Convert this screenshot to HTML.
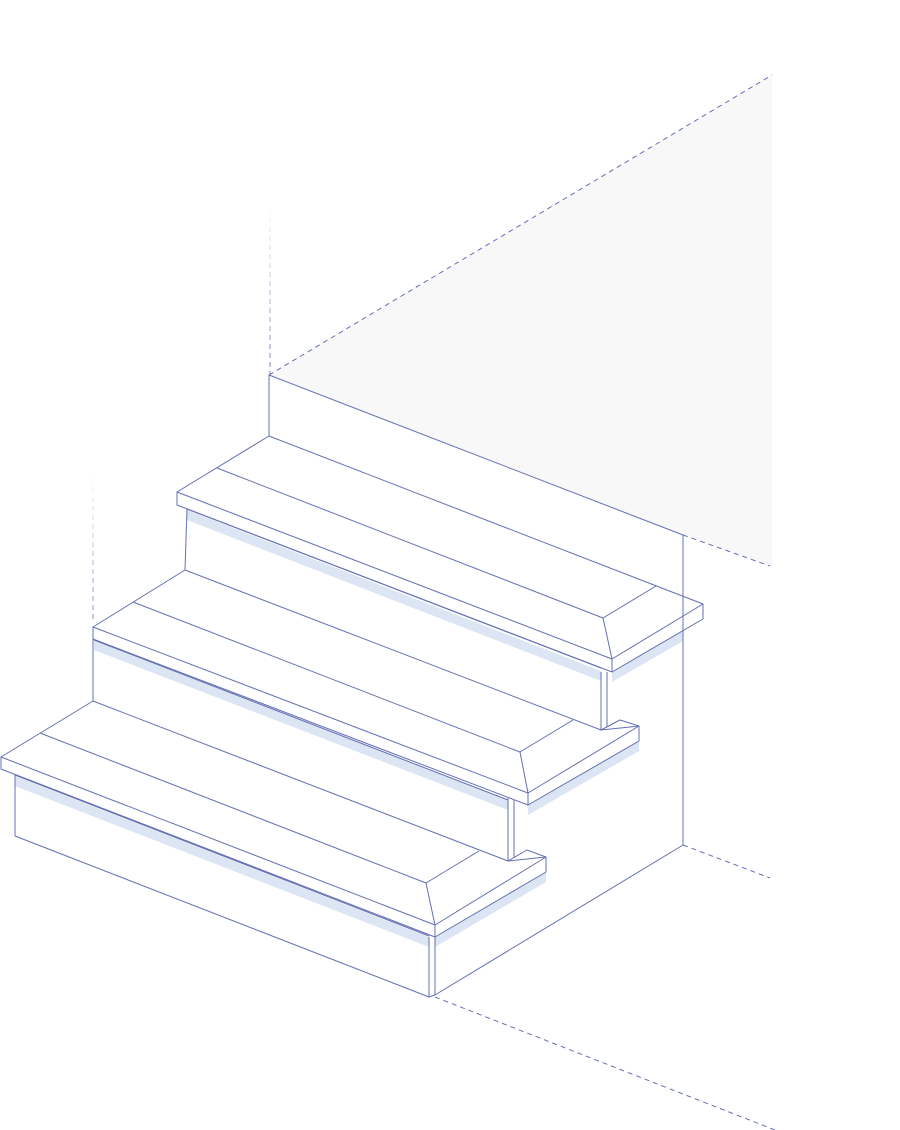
<!DOCTYPE html>
<html><head><meta charset="utf-8"><style>html,body{margin:0;padding:0;background:#fff}svg{display:block}</style></head>
<body>
<svg width="900" height="1130" viewBox="0 0 900 1130" xmlns="http://www.w3.org/2000/svg">
<defs>
<linearGradient id="fv1" gradientUnits="userSpaceOnUse" x1="0" y1="200" x2="0" y2="375"><stop offset="0" stop-color="#6570b5" stop-opacity="0"/><stop offset="1" stop-color="#6570b5" stop-opacity="0.9"/></linearGradient>
<linearGradient id="fv2" gradientUnits="userSpaceOnUse" x1="0" y1="470" x2="0" y2="622"><stop offset="0" stop-color="#6570b5" stop-opacity="0"/><stop offset="1" stop-color="#6570b5" stop-opacity="0.8"/></linearGradient>
</defs>
<polygon points="269,375 772,75 772,566 683,535" fill="#f8f8f8"/>
<g fill="#dce5f4">
<polygon points="187,510 601,671 601,681 187,520"/>
<polygon points="612,672 683,631 683,641 612,682"/>
<polygon points="94,640 508,800 508,810 94,650"/>
<polygon points="528,805 639,741 639,751 528,815"/>
<polygon points="15,776 429,937 429,947 15,786"/>
<polygon points="435,937 546,872 546,882 435,947"/>
</g>
<g fill="none" stroke="#6570b5" stroke-width="1" stroke-dasharray="5,4">
<line x1="269" y1="375" x2="772" y2="75"/>
<line x1="683" y1="535" x2="770" y2="566"/>
<line x1="683" y1="845" x2="770" y2="878"/>
<line x1="435" y1="997" x2="775" y2="1130"/>
</g>
<line x1="270" y1="200" x2="270" y2="375" stroke="url(#fv1)" stroke-width="1" stroke-dasharray="5,4"/>
<line x1="93" y1="470" x2="93" y2="622" stroke="url(#fv2)" stroke-width="1" stroke-dasharray="5,4"/>
<g fill="none" stroke="#6470b2" stroke-width="1" stroke-linejoin="round">
<polyline points="269,436 269,375 683,535 683,845 435,995"/>
<polyline points="269,436 177,492 177,505 612,672 703,619 703,604 269,436"/>
<polyline points="177,492 612,659 703,604"/>
<polyline points="217,468 603,618 656,586"/>
<line x1="603" y1="618" x2="612" y2="659"/>
<line x1="612" y1="659" x2="612" y2="672"/>
<polyline points="187,509 185,570 601,730 601,672"/>
<line x1="607" y1="672" x2="607" y2="727"/>
<line x1="187" y1="509" x2="601" y2="668"/>
<polyline points="185,570 93,627 93,639 528,805 639,741 639,726 620,720 601,730"/>
<line x1="601" y1="730" x2="639" y2="726"/>
<polyline points="93,627 528,793 639,726"/>
<polyline points="133,602 520,752 573,720"/>
<line x1="520" y1="752" x2="528" y2="793"/>
<line x1="528" y1="793" x2="528" y2="805"/>
<polyline points="93,639 93,701 508,861 508,798"/>
<line x1="514" y1="800" x2="514" y2="857"/>
<line x1="94" y1="640" x2="508" y2="800"/>
<polyline points="93,701 1,757 1,769 435,937 546,872 546,857 527,850 508,861"/>
<line x1="508" y1="861" x2="546" y2="857"/>
<polyline points="1,757 435,925 546,857"/>
<polyline points="40,733 426,883 479,851"/>
<line x1="426" y1="883" x2="435" y2="925"/>
<line x1="435" y1="925" x2="435" y2="937"/>
<polyline points="15,775 15,836 429,997 429,937"/>
<line x1="435" y1="937" x2="435" y2="995"/>
<line x1="429" y1="997" x2="435" y2="995"/>
<line x1="15" y1="775" x2="429" y2="936"/>
</g>
</svg>
</body></html>
